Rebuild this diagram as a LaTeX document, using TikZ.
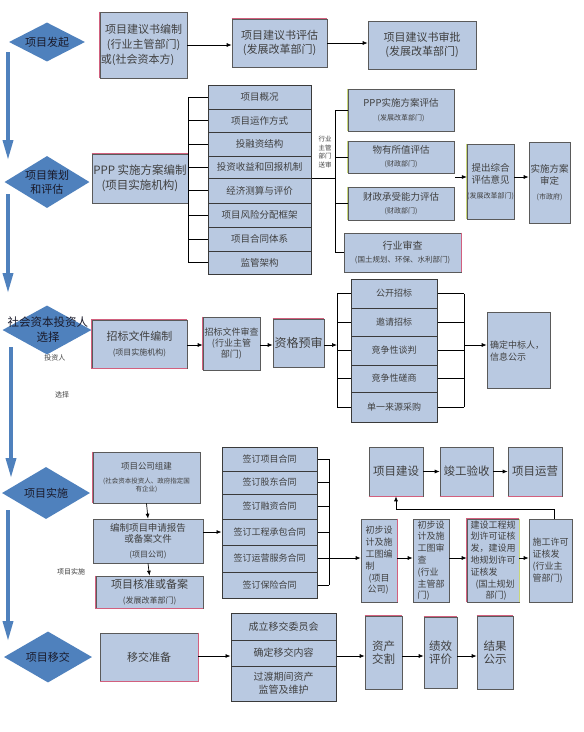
\documentclass[tikz,border=0pt]{standalone}
\usepackage{fontspec}
\setmainfont{Noto Sans CJK SC}
\usetikzlibrary{shapes.geometric,arrows.meta,calc}
\definecolor{boxfill}{HTML}{B9C9E1}
\definecolor{boxline}{HTML}{5A5A5A}
\definecolor{itemline}{HTML}{3A3A3A}
\definecolor{diafill}{HTML}{4F81BD}
\definecolor{txt}{HTML}{404040}
\definecolor{diatxt}{HTML}{1A1A2A}
\definecolor{pinkedge}{HTML}{D2607E}
\definecolor{yeledge}{HTML}{C9D77A}
\newcommand\myfs[2]{\fontsize{#1}{#2}\selectfont}
\newcommand\mybox[7][]{\node[box,minimum width=#5pt-#3pt,minimum height=#6pt-#4pt,#1] (#2) at ({(#3+#5)/2},{(#4+#6)/2}) {#7};}
\tikzset{
 box/.style={draw=boxline, fill=boxfill, line width=0.6pt, inner sep=0pt, align=center, text=txt},
 item/.style={draw=itemline, line width=1pt},
 dia/.style={diamond, fill=diafill, inner sep=0pt},
 diatext/.style={text=diatxt, align=center, font=\myfs{11}{14}},
 arr/.style={draw=black, line width=0.7pt, -{Latex[length=5pt,width=4pt]}},
 ln/.style={draw=black, line width=0.8pt},
 bigarr/.style={draw=diafill, line width=3.5pt, -{Triangle[width=10pt,length=20pt]}},
 small/.style={text=txt, font=\myfs{7}{9}, inner sep=0pt, align=center},
 pk/.style={draw=pinkedge, line width=0.8pt},
 yk/.style={draw=yeledge, line width=0.8pt},
}
\begin{document}
\begin{tikzpicture}[x=1pt,y=-1pt]
\fill[white] (0,0) rectangle (584,732);
\useasboundingbox (0,0) rectangle (584,732);

% ---------- big blue arrows ----------
\coordinate (s1) at (8,52);  \coordinate (e1) at (8,160);
\coordinate (s2) at (8,194); \coordinate (e2) at (8,293);
\coordinate (s3) at (11,347); \coordinate (e3) at (11,478);
\coordinate (s4) at (8,510); \coordinate (e4) at (8,641);
\draw[bigarr] (s1) -- (e1);
\draw[bigarr] (s2) -- (e2);
\draw[bigarr] (s3) -- (e3);
\draw[bigarr] (s4) -- (e4);

% ---------- row 1 ----------
\node[dia, minimum width=76, minimum height=39] (d1) at (47,42) {};
\node[diatext] (d1t) at (d1) {项目发起};
\mybox[font=\myfs{11}{15}]{a1}{100}{12}{187}{78}{项目建议书编制\\(行业主管部门)\\或(社会资本方)\hspace*{12pt}}
\mybox[font=\myfs{11}{14}]{a2}{232}{19}{327}{67}{项目建议书评估\\(发展改革部门)}
\mybox[font=\myfs{11}{14}]{a3}{368}{21}{476}{69}{项目建议书审批\\(发展改革部门)}
\draw[pk] (a1.north west) -- (a1.south west);
\draw[pk] (a2.north west) -- (a2.north east);
\draw[arr] (a1.east) -- (a1.east -| a2.west);
\draw[arr] (a2.east) -- (a2.east -| a3.west);

% ---------- row 2 ----------
\node[dia, minimum width=85, minimum height=52] (d2) at (47,182) {};
\node[diatext] (d2t) at (d2) {项目策划\\和评估};
\mybox[font=\myfs{11.5}{15}]{b0}{92}{154}{188}{203}{PPP 实施方案编制\\(项目实施机构)}
\draw[pk] (b0.north west) -- (b0.north east);
\mybox[item,font=\myfs{9.5}{12}]{b1}{208}{85}{311}{109}{项目概况}
\mybox[item,font=\myfs{9.5}{12}]{b2}{208}{109}{311}{132}{项目运作方式}
\mybox[item,font=\myfs{9.5}{12}]{b3}{208}{132}{311}{156}{投融资结构}
\mybox[item,font=\myfs{9.5}{12}]{b4}{208}{156}{311}{178}{投资收益和回报机制}
\mybox[item,font=\myfs{9.5}{12}]{b5}{208}{178}{311}{203}{经济测算与评价}
\mybox[item,font=\myfs{9.5}{12}]{b6}{208}{203}{311}{227}{项目风险分配框架}
\mybox[item,font=\myfs{9.5}{12}]{b7}{208}{227}{311}{251}{项目合同体系}
\mybox[item,font=\myfs{9.5}{12}]{b8}{208}{251}{311}{274}{监管架构}
\coordinate (bl) at (188,0);
\foreach \i in {1,...,8} {\draw[ln] (b\i.west) -- (bl |- b\i.west);}
\draw[ln] (bl |- b1.west) -- (bl |- b8.west);

\mybox[font=\myfs{9.5}{14}]{c1}{348}{89}{454}{131}{PPP实施方案评估\\{\myfs{7}{9}(发展改革部门)}}
\mybox[font=\myfs{9.5}{13}]{c2}{348}{141}{454}{173}{物有所值评估\\{\myfs{7}{9}(财政部门)}}
\mybox[font=\myfs{9.5}{13}]{c3}{348}{187}{454}{220}{财政承受能力评估\\{\myfs{7}{9}(财政部门)}}
\mybox[font=\myfs{10}{13}]{c4}{344}{233}{461}{272}{行业审查\\{\myfs{7.5}{9}(国土规划、环保、水利部门)}}
\foreach \i in {1,2,3} {\draw[yk] (c\i.north west) -- (c\i.south west);}
\draw[pk] (c4.north east) -- (c4.south east);
\coordinate (br) at (335,0);
\draw[ln] (b4.south east) -- (br |- b4.south east);
\draw[ln] (br |- c1.west) -- (br |- c4.west);
\foreach \i in {1,2,3} {\draw[ln] (br |- c\i.west) -- (c\i.west);}
\draw[ln] (br |- c4.west) -- (c4.west);
\node[small, font=\myfs{6.5}{8.5}] (sendtxt) at (325,152) {行业\\主管\\部门\\送审};

\mybox[font=\myfs{9.5}{12}]{dd1}{468}{144}{513}{219}{提出综合\\评估意见\\[3pt]{\myfs{7}{9}(发展改革部门)}}
\mybox[font=\myfs{9.5}{12}]{dd2}{529}{142}{570}{223}{实施方案\\审定\\[3pt]{\myfs{7}{9}(市政府)}}
\draw[yk] (dd1.north west) -- (dd1.south west);
\coordinate (cj) at (455,177);
\draw[arr] (cj) -- (cj -| dd1.west);
\draw[arr] (dd1.east |- cj) -- (dd2.west |- cj);

% ---------- row 3 ----------
\node[dia, minimum width=89, minimum height=49] (d3) at (47,330) {};
\node[diatext, font=\myfs{11.5}{15}] (d3t) at (48,330) {社会资本投资人\\选择};
\node[small] (inv) at (55,358) {投资人};
\node[small] (sel) at (62,395) {选择};
\mybox[font=\myfs{11}{15}]{e1}{92}{320}{187}{368}{招标文件编制\\{\myfs{8}{10}(项目实施机构)}}
\mybox[font=\myfs{9}{11}]{e2}{203}{317}{260}{370}{招标文件审查\\(行业主管\\部门)}
\mybox[font=\myfs{12}{15}]{e3}{273}{319}{324}{367}{资格预审}
\draw[pk] (e1.north east) -- (e1.north west) -- (e1.south west) -- (e1.south east);
\draw[pk] (e2.north west) -- (e2.south west);
\draw[pk] (e3.north west) -- (e3.north east);
\coordinate (ey) at (0,345);
\draw[arr] (e1.east |- ey) -- (e2.west |- ey);
\draw[arr] (e2.east |- ey) -- (e3.west |- ey);
\mybox[item,font=\myfs{9}{12}]{f1}{351}{279}{437}{308}{公开招标}
\mybox[item,font=\myfs{9}{12}]{f2}{351}{308}{437}{336}{邀请招标}
\mybox[item,font=\myfs{9}{12}]{f3}{351}{336}{437}{365}{竞争性谈判}
\mybox[item,font=\myfs{9}{12}]{f4}{351}{365}{437}{392}{竞争性磋商}
\mybox[item,font=\myfs{9}{12}]{f5}{351}{392}{437}{422}{单一来源采购}
\coordinate (fl) at (337,0);
\coordinate (fr) at (464,0);
\draw[arr] (e3.east |- ey) -- (fl |- ey);
\draw[ln] (fl |- f1.west) -- (fl |- f5.west);
\draw[ln] (fr |- f1.east) -- (fr |- f5.east);
\foreach \i in {1,...,5} {\draw[ln] (fl |- f\i.west) -- (f\i.west); \draw[ln] (f\i.east) -- (fr |- f\i.east);}
\mybox[font=\myfs{9}{11.5}]{g}{487}{312}{550}{388}{}
\node[text=txt, font=\myfs{9}{11.5}, align=left, anchor=west, inner sep=0pt] (gt) at (490,351) {确定中标人，\\信息公示};
\draw[arr] (fr |- ey) -- (g.west |- ey);

% ---------- row 4 ----------
\node[dia, minimum width=88, minimum height=52] (d4) at (46,493) {};
\node[diatext] (d4t) at (d4) {项目实施};
\node[small] (impl) at (71,572) {项目实施};
\mybox[font=\myfs{8.5}{11}]{h1}{93}{452}{200}{503}{项目公司组建\\[3pt]{\myfs{6.5}{8}(社会资本投资人、政府指定国}\\[-3pt]{\myfs{6.5}{8}有企业)}}
\mybox[font=\myfs{9.5}{11.5}]{h2}{93}{519}{203}{563}{编制项目申请报告\\或备案文件\\[3pt]{\myfs{8}{10}(项目公司)}}
\mybox[font=\myfs{11}{15}]{h3}{96}{576}{203}{608}{项目核准或备案\\{\myfs{8}{10}(发展改革部门)}}
\draw[pk] (h1.north west) -- (h1.south west);
\draw[pk] (h3.north west) -- (h3.south west) -- (h3.south east);
\draw[arr] (h1.south) -- (h2.north);
\draw[arr] (h2.south) -- (h3.north);
\mybox[item,font=\myfs{9}{12}]{k1}{222}{447}{317}{471}{签订项目合同}
\mybox[item,font=\myfs{9}{12}]{k2}{222}{471}{317}{494}{签订股东合同}
\mybox[item,font=\myfs{9}{12}]{k3}{222}{494}{317}{519}{签订融资合同}
\mybox[item,font=\myfs{9}{12}]{k4}{222}{519}{317}{545}{签订工程承包合同}
\mybox[item,font=\myfs{9}{12}]{k5}{222}{545}{317}{572}{签订运营服务合同}
\mybox[item,font=\myfs{9}{12}]{k6}{222}{572}{317}{598}{签订保险合同}
\draw[arr] (h2.east |- k4.west) -- (k4.west);
\coordinate (kr) at (329,0);
\foreach \i in {1,...,6} {\draw[ln] (k\i.east) -- (kr |- k\i.east);}
\draw[ln] (kr |- k1.east) -- (kr |- k6.east);
\coordinate (ly) at (0,558);
\mybox[font=\myfs{9}{11.8},align=left]{l1}{361}{519}{397}{602}{初步设\\计及施\\工图编\\制\\\hspace*{3pt}(项目\\\hspace*{2pt}公司)}
\mybox[font=\myfs{9}{11.8},align=left]{l2}{413}{519}{449}{602}{初步设\\计及施\\工图审\\查\\(行业\\主管部\\门)}
\mybox[font=\myfs{9}{11.8},align=left]{l3}{467}{519}{519}{602}{建设工程规\\划许可证核\\发，建设用\\地规划许可\\证核发\\\hspace*{5pt}(国土规划\\\hspace*{15pt}部门)}
\mybox[font=\myfs{9}{11.8},align=left]{l4}{529}{519}{572}{602}{施工许可\\证核发\\(行业主\\管部门)}
\draw[pk] (l1.north east) -- (l1.south east);
\draw[pk] (l3.south west) -- (l3.north west) -- (l3.north east);
\draw[yk] (l3.north east) -- (l3.south east);
\draw[arr] (kr |- ly) -- (l1.west |- ly);
\draw[arr] (l1.east |- ly) -- (l2.west |- ly);
\draw[arr] (l2.east |- ly) -- (l3.west |- ly);
\draw[arr] (l3.east |- ly) -- (l4.west |- ly);
\mybox[font=\myfs{11.5}{14}]{m1}{369}{447}{423}{496}{项目建设}
\mybox[font=\myfs{11.5}{14}]{m2}{440}{447}{493}{496}{竣工验收}
\mybox[font=\myfs{11.5}{14}]{m3}{508}{447}{562}{496}{项目运营}
\foreach \i in {1,2,3} {\draw[pk] (m\i.south west) -- (m\i.south east);}
\draw[arr] (m1.east) -- (m2.west);
\draw[arr] (m2.east) -- (m3.west);
\coordinate (fb) at (554,509);
\draw[arr] (l4.north -| fb) -- (fb) -- (fb -| m1.south) -- (m1.south);

% ---------- row 5 ----------
\node[dia, minimum width=88, minimum height=51] (d5) at (48,657) {};
\node[diatext] (d5t) at (d5) {项目移交};
\mybox[font=\myfs{11}{14}]{n1}{100}{633}{198}{681}{移交准备}
\draw[pk] (n1.north east) -- (n1.south east) -- (n1.south west);
\mybox[item,font=\myfs{10}{13}]{n21}{231}{613}{336}{640}{成立移交委员会}
\mybox[item,font=\myfs{10}{13}]{n22}{231}{640}{336}{666}{确定移交内容}
\mybox[item,font=\myfs{10}{13}]{n23}{231}{666}{336}{701}{过渡期间资产\\监管及维护}
\mybox[font=\myfs{11.5}{13}]{p1}{365}{616}{402}{689}{资产\\交割}
\mybox[font=\myfs{11.5}{13}]{p2}{424}{617}{457}{688}{绩效\\评价}
\mybox[font=\myfs{11.5}{13}]{p3}{477}{616}{513}{689}{结果\\公示}
\foreach \i in {1,2,3} {\draw[pk] (p\i.north west) -- (p\i.north east);}
\coordinate (ny) at (0,656);
\draw[arr] (n1.east |- ny) -- (n21.west |- ny);
\draw[arr] (n21.east |- ny) -- (p1.west |- ny);
\draw[arr] (p1.east |- ny) -- (p2.west |- ny);
\draw[arr] (p2.east |- ny) -- (p3.west |- ny);
\end{tikzpicture}
\end{document}
